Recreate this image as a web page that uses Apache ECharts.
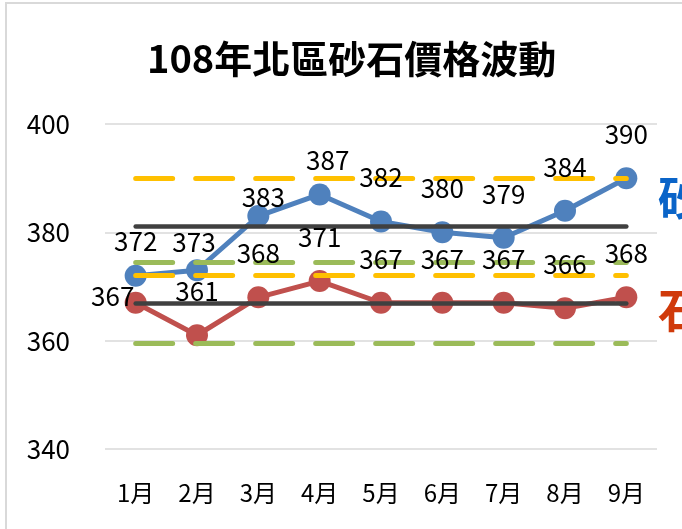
<!DOCTYPE html>
<html>
<head>
<meta charset="utf-8">
<script src="https://cdn.jsdelivr.net/npm/echarts@6/dist/echarts.min.js"></script>
<style>
  html, body { margin: 0; padding: 0; background: #fff; }
  #main { width: 682px; height: 529px; }
</style>
</head>
<body>
<div id="main"></div>
<script>
// 月份
const months = ['1月', '2月', '3月', '4月', '5月', '6月', '7月', '8月', '9月']
// 砂 / 石 價格
const sandPrices = [372, 373, 383, 387, 382, 380, 379, 384, 390]
const stonePrices = [367, 361, 368, 371, 367, 367, 367, 366, 368]
// 參考線: 上限 / 平均 / 下限
const sandRefs = [390, 381.1, 372]
const stoneRefs = [374.4, 366.9, 359.5]
const yTicks = [340, 360, 380, 400]

const FONT = '"Noto Sans CJK TC", "Noto Sans", sans-serif'

// 個別標籤手動位移 (Excel 裡被拖過的)
const sandLabelShift = { 0: [0, -35], 1: [-3, -28], 2: [5, -19], 3: [8, -34] }
const stoneLabelShift = { 0: [-23, -7] }

function withLabels(values, shift) {
  return values.map((v, i) => ({
    value: v,
    label: { offset: shift[i] || [0, -44] }
  }))
}

function refLine(value, color, dashed) {
  return [
    {
      coord: [months[0], value],
      lineStyle: {
        color: color,
        width: dashed ? 5 : 4.5,
        type: dashed ? [37, 23] : 'solid',
        cap: 'round'
      }
    },
    { coord: [months[months.length - 1], value] }
  ]
}

const chart = echarts.init(document.getElementById('main'), null, { renderer: 'canvas' })

const lineSeries = (name, color, values) => ({
  name: name,
  type: 'line',
  symbol: 'circle',
  symbolSize: 22,
  lineStyle: { color: color, width: 5 },
  itemStyle: { color: color },
  emphasis: { disabled: true },
  data: values,
  z: 2
})

// 只放數字標籤, 讓標籤壓在參考線上面
const labelSeries = (name, values, shift) => ({
  name: name,
  type: 'line',
  symbol: 'circle',
  symbolSize: 2,
  lineStyle: { color: 'rgba(0,0,0,0)', width: 0 },
  itemStyle: { color: 'rgba(0,0,0,0)' },
  label: {
    show: true,
    position: 'inside',
    color: '#000',
    fontSize: 26,
    fontFamily: FONT
  },
  emphasis: { disabled: true },
  silent: true,
  data: withLabels(values, shift),
  z: 10
})

chart.setOption({
  animation: false,
  backgroundColor: '#fff',
  title: {
    text: '108年北區砂石價格波動',
    left: 147,
    top: 40,
    padding: 0,
    textStyle: { fontSize: 38, fontWeight: 'bold', color: '#000', fontFamily: FONT }
  },
  grid: { left: 105, right: 25, top: 124, bottom: 80 },
  xAxis: {
    type: 'category',
    data: months,
    boundaryGap: true,
    axisLine: { show: false },
    axisTick: { show: false },
    axisLabel: { color: '#000', fontSize: 24, fontFamily: FONT, margin: 32 }
  },
  yAxis: {
    type: 'value',
    min: yTicks[0],
    max: yTicks[yTicks.length - 1],
    interval: 20,
    axisLine: { show: false },
    axisTick: { show: false },
    axisLabel: { color: '#000', fontSize: 26, fontFamily: FONT, margin: 35 },
    splitLine: { lineStyle: { color: '#d9d9d9', width: 1.5 } }
  },
  series: [
    lineSeries('砂', '#4f81bd', sandPrices),
    lineSeries('石', '#c0504d', stonePrices),
    {
      name: '參考線',
      type: 'line',
      data: [],
      z: 5,
      markLine: {
        silent: true,
        symbol: 'none',
        label: { show: false },
        emphasis: { disabled: true },
        data: [
          refLine(sandRefs[0], '#ffc000', true),
          refLine(sandRefs[1], '#404040', false),
          refLine(sandRefs[2], '#ffc000', true),
          refLine(stoneRefs[0], '#9bbb59', true),
          refLine(stoneRefs[1], '#404040', false),
          refLine(stoneRefs[2], '#9bbb59', true)
        ]
      }
    },
    labelSeries('砂標籤', sandPrices, sandLabelShift),
    labelSeries('石標籤', stonePrices, stoneLabelShift)
  ],
  graphic: [
    {
      type: 'rect',
      shape: { x: 6, y: 3, width: 720, height: 600 },
      style: { fill: 'none', stroke: '#d9d9d9', lineWidth: 2 },
      silent: true
    },
    {
      type: 'text',
      x: 658, y: 198,
      style: { text: '砂', fill: '#0a64c8', fontSize: 46, fontWeight: 'bold', fontFamily: FONT, textVerticalAlign: 'middle' }
    },
    {
      type: 'text',
      x: 658, y: 310,
      style: { text: '石', fill: '#d03a0a', fontSize: 46, fontWeight: 'bold', fontFamily: FONT, textVerticalAlign: 'middle' }
    }
  ]
})
</script>
</body>
</html>
